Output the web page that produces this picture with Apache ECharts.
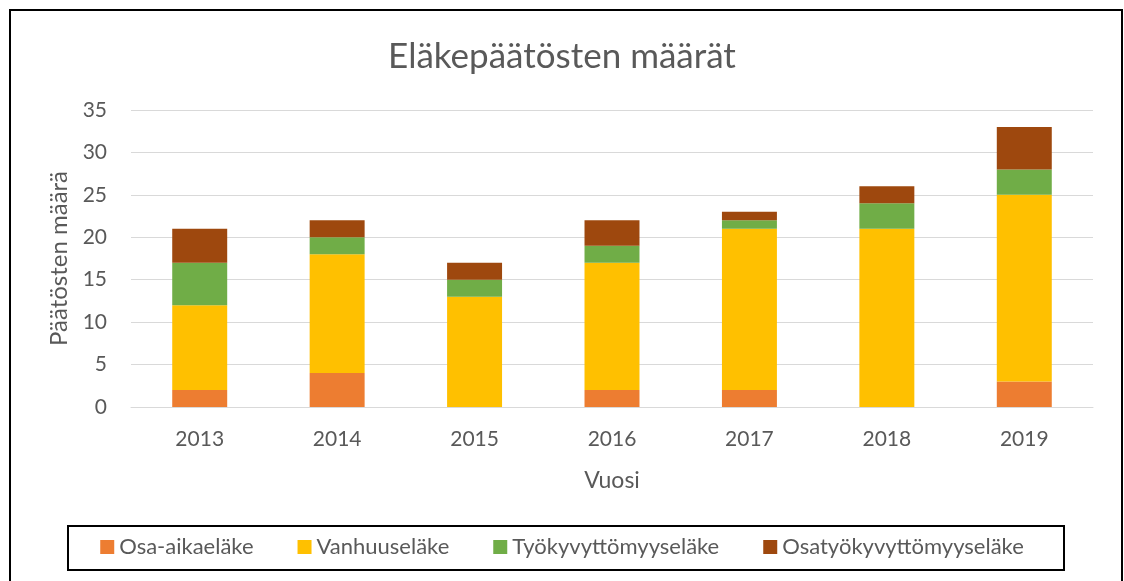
<!DOCTYPE html>
<html>
<head>
<meta charset="utf-8">
<script src="https://cdn.jsdelivr.net/npm/echarts@6/dist/echarts.min.js"></script>
<style>
  html, body { margin: 0; padding: 0; background: #fff; }
  #chart { width: 1124px; height: 581px; }
</style>
</head>
<body>
<div id="chart"></div>
<script>
const years = ['2013', '2014', '2015', '2016', '2017', '2018', '2019']
const osaAika = [2, 4, 0, 2, 2, 0, 3]
const vanhuus = [10, 14, 13, 15, 19, 21, 22]
const tyokyvyttomyys = [5, 2, 2, 2, 1, 3, 3]
const osatyokyvyttomyys = [4, 2, 2, 3, 1, 2, 5]
const seriesNames = ['Osa-aikaeläke', 'Vanhuuseläke', 'Työkyvyttömyyseläke', 'Osatyökyvyttömyyseläke']
const colors = ['#ED7D31', '#FFC000', '#70AD47', '#9E480E']

const font = 'Lato, "Open Sans", sans-serif'
const chart = echarts.init(document.getElementById('chart'))

const makeBar = (name, data, i) => ({
  name: name,
  type: 'bar',
  stack: 'total',
  data: data,
  barWidth: '40%',
  itemStyle: { color: colors[i] }
})

chart.setOption({
  textStyle: { fontFamily: font },
  color: colors,
  title: {
    text: 'Eläkepäätösten määrät',
    left: 'center',
    top: 34,
    textStyle: { fontSize: 35, fontWeight: 'normal', color: '#595959', fontFamily: font }
  },
  grid: { left: 131, right: 31, top: 110, bottom: 174 },
  xAxis: {
    type: 'category',
    data: years,
    name: 'Vuosi',
    nameLocation: 'middle',
    nameGap: 62,
    nameTextStyle: { fontSize: 23, color: '#595959' },
    axisLine: { lineStyle: { color: '#d9d9d9', width: 1 } },
    axisTick: { show: false },
    axisLabel: { fontSize: 21, color: '#595959', margin: 22 }
  },
  yAxis: {
    type: 'value',
    min: 0,
    max: 35,
    interval: 5,
    name: 'Päätösten määrä',
    nameLocation: 'middle',
    nameGap: 58,
    nameTextStyle: { fontSize: 24, color: '#595959' },
    axisLine: { show: false },
    axisTick: { show: false },
    axisLabel: { fontSize: 21, color: '#595959', margin: 24 },
    splitLine: { lineStyle: { color: '#d9d9d9', width: 1 } }
  },
  legend: {
    bottom: 18,
    left: 'center',
    itemWidth: 14,
    itemHeight: 14,
    itemGap: 44,
    icon: 'rect',
    textStyle: { fontSize: 22, color: '#595959' },
    data: seriesNames
  },
  graphic: [
    {
      type: 'rect',
      shape: { x: 10, y: 10, width: 1112, height: 580 },
      style: { fill: 'none', stroke: '#000', lineWidth: 2 },
      silent: true
    },
    {
      type: 'rect',
      shape: { x: 68, y: 526, width: 996, height: 44 },
      style: { fill: 'none', stroke: '#000', lineWidth: 2 },
      silent: true
    }
  ],
  series: [
    makeBar(seriesNames[0], osaAika, 0),
    makeBar(seriesNames[1], vanhuus, 1),
    makeBar(seriesNames[2], tyokyvyttomyys, 2),
    makeBar(seriesNames[3], osatyokyvyttomyys, 3)
  ]
})
</script>
</body>
</html>
